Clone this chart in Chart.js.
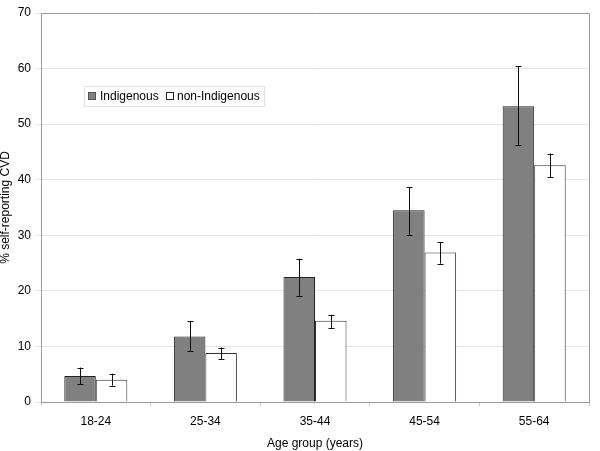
<!DOCTYPE html>
<html>
<head>
<meta charset="utf-8">
<script src="https://cdn.jsdelivr.net/npm/chart.js@4.4.0/dist/chart.umd.min.js"></script>
<style>
  html, body { margin: 0; padding: 0; background: #fff; }
  #wrap { width: 600px; height: 451px; }
</style>
</head>
<body>
<div id="wrap"><canvas id="c" width="600" height="451"></canvas></div>
<script>
const categories = ["18-24", "25-34", "35-44", "45-54", "55-64"];
const indigenous = [4.7, 11.8, 22.5, 34.5, 53.2];
const indigenousLow = [3.2, 9.1, 19.1, 30.0, 46.2];
const indigenousHigh = [6.2, 14.5, 25.8, 38.7, 60.4];
const nonIndigenous = [4.0, 8.8, 14.6, 26.9, 42.6];
const nonIndigenousLow = [2.95, 7.7, 13.3, 24.9, 40.4];
const nonIndigenousHigh = [5.1, 9.8, 15.7, 28.8, 44.7];
const yTicks = [0, 10, 20, 30, 40, 50, 60, 70];

const FONT = "'Liberation Sans', Arial, sans-serif";

const errorBars = {
  id: 'errorBars',
  afterDatasetsDraw(chart) {
    const ctx = chart.ctx;
    const y = chart.scales.y;
    const sets = [[indigenousLow, indigenousHigh], [nonIndigenousLow, nonIndigenousHigh]];
    ctx.save();
    ctx.strokeStyle = '#111';
    ctx.lineWidth = 1;
    sets.forEach((s, di) => {
      const meta = chart.getDatasetMeta(di);
      meta.data.forEach((bar, i) => {
        const x = Math.round(bar.x) + 0.5;
        const y1 = y.getPixelForValue(s[0][i]);
        const y2 = y.getPixelForValue(s[1][i]);
        ctx.beginPath();
        ctx.moveTo(x, y1); ctx.lineTo(x, y2);
        ctx.moveTo(x - 3, Math.round(y1) + 0.5); ctx.lineTo(x + 3, Math.round(y1) + 0.5);
        ctx.moveTo(x - 3, Math.round(y2) + 0.5); ctx.lineTo(x + 3, Math.round(y2) + 0.5);
        ctx.stroke();
      });
    });
    ctx.restore();
  }
};

const frameAndLegend = {
  id: 'frameAndLegend',
  afterDraw(chart) {
    const ctx = chart.ctx;
    const a = chart.chartArea;
    ctx.save();
    ctx.strokeStyle = '#9a9a9a';
    ctx.lineWidth = 1;
    ctx.beginPath();
    ctx.moveTo(Math.round(a.left) + 0.5, Math.round(a.top) + 0.5);
    ctx.lineTo(Math.round(a.right) + 0.5, Math.round(a.top) + 0.5);
    ctx.lineTo(Math.round(a.right) + 0.5, Math.round(a.bottom) + 0.5);
    ctx.stroke();
    // legend
    const lx = 84, ly = 86, lw = 180, lh = 20;
    ctx.strokeStyle = '#e2e2e2';
    ctx.strokeRect(lx + 0.5, ly + 0.5, lw, lh);
    ctx.font = '12px ' + FONT;
    ctx.textBaseline = 'middle';
    ctx.fillStyle = '#808080';
    ctx.strokeStyle = '#555';
    ctx.fillRect(88, 92, 8, 8);
    ctx.strokeRect(88.5, 92.5, 7, 7);
    ctx.fillStyle = '#000';
    ctx.fillText(chart.data.datasets[0].label, 100, 96.5);
    ctx.fillStyle = '#fff';
    ctx.strokeStyle = '#222';
    ctx.fillRect(166, 92, 8, 8);
    ctx.strokeRect(166.5, 92.5, 7, 7);
    ctx.fillStyle = '#000';
    ctx.fillText(chart.data.datasets[1].label, 177, 96.5);
    ctx.restore();
  }
};

new Chart(document.getElementById('c'), {
  type: 'bar',
  data: {
    labels: categories,
    datasets: [
      { label: 'Indigenous', data: indigenous, backgroundColor: '#808080', borderColor: '#222', borderWidth: 1 },
      { label: 'non-Indigenous', data: nonIndigenous, backgroundColor: '#ffffff', borderColor: '#333', borderWidth: 1 }
    ]
  },
  options: {
    responsive: false,
    animation: false,
    devicePixelRatio: 1,
    layout: { padding: { top: 13, right: 11, left: 0, bottom: 0 } },
    datasets: { bar: { barPercentage: 1, categoryPercentage: 0.575 } },
    plugins: { legend: { display: false }, tooltip: { enabled: false } },
    scales: {
      x: {
        afterFit(s) { s.height = 49; },
        grid: { drawOnChartArea: false, drawTicks: true, tickLength: 4, color: '#c8c8c8', offset: true },
        border: { color: '#9a9a9a' },
        ticks: { color: '#000', font: { family: FONT, size: 12 }, padding: 8 },
        title: { display: true, text: 'Age group (years)', color: '#000', font: { family: FONT, size: 12 }, padding: { top: 0, bottom: 0 } }
      },
      y: {
        min: 0, max: 70,
        afterFit(s) { s.width = 41; },
        afterBuildTicks(s) { s.ticks = yTicks.map(v => ({ value: v })); },
        grid: { color: '#e4e4e4', tickLength: 5, drawTicks: true },
        border: { color: '#9a9a9a' },
        ticks: { color: '#000', font: { family: FONT, size: 12 }, padding: 5 },
        title: { display: true, text: '% self-reporting CVD', color: '#000', font: { family: FONT, size: 12, lineHeight: 0.9 }, padding: { top: 0, bottom: 0 } }
      }
    }
  },
  plugins: [errorBars, frameAndLegend]
});
</script>
</body>
</html>
